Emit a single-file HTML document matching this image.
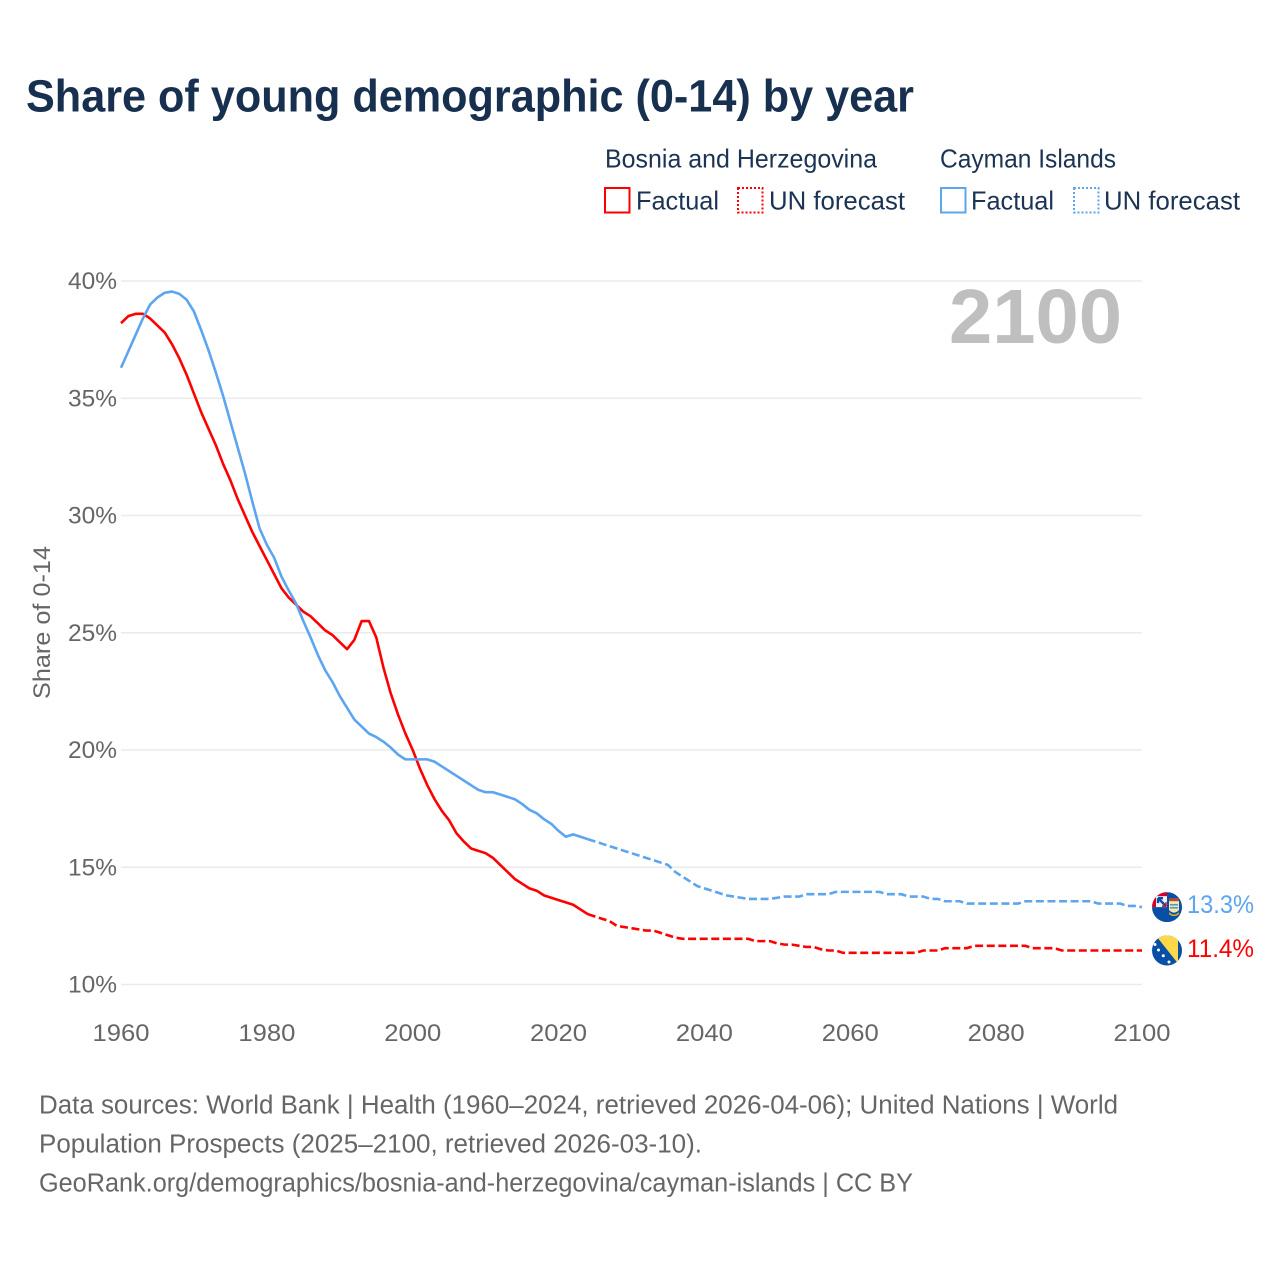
<!DOCTYPE html>
<html lang="en">
<head>
<meta charset="utf-8">
<title>Share of young demographic (0-14) by year</title>
<style>
html,body{margin:0;padding:0;background:#fff;}
svg{display:block;font-family:"Liberation Sans",sans-serif;}
</style>
</head>
<body>
<svg id="chart" width="1280" height="1280" viewBox="0 0 1280 1280" xmlns="http://www.w3.org/2000/svg">
  <defs>
    <clipPath id="flag-clip"><circle cx="0" cy="0" r="15"></circle></clipPath>
  </defs>
  <rect width="1280" height="1280" fill="#fff"></rect>
  <text x="26" y="111.5" font-size="45" font-weight="700" fill="#18304f" textLength="888" lengthAdjust="spacingAndGlyphs">Share of young demographic (0-14) by year</text>

  <g font-size="26" fill="#1b3354">
    <text x="605" y="167.5" textLength="272" lengthAdjust="spacingAndGlyphs">Bosnia and Herzegovina</text>
    <text x="940" y="167.5" textLength="176" lengthAdjust="spacingAndGlyphs">Cayman Islands</text>
    <rect x="605" y="188" width="24.5" height="24.5" fill="none" stroke="#ff0000" stroke-width="2"></rect>
    <text x="636" y="209.5" textLength="83" lengthAdjust="spacingAndGlyphs">Factual</text>
    <rect x="738" y="188" width="24.5" height="24.5" fill="none" stroke="#ff0000" stroke-width="2" stroke-dasharray="2,2"></rect>
    <text x="769" y="209.5" textLength="136" lengthAdjust="spacingAndGlyphs">UN forecast</text>
    <rect x="941" y="188" width="24.5" height="24.5" fill="none" stroke="#5da5ee" stroke-width="2"></rect>
    <text x="971" y="209.5" textLength="83" lengthAdjust="spacingAndGlyphs">Factual</text>
    <rect x="1074" y="188" width="24.5" height="24.5" fill="none" stroke="#5da5ee" stroke-width="2" stroke-dasharray="2,2"></rect>
    <text x="1104" y="209.5" textLength="136" lengthAdjust="spacingAndGlyphs">UN forecast</text>
  </g>

  <g id="grid"></g>
  <g id="y-ticks"></g>
  <g id="x-ticks"></g>
  <text transform="translate(50,622.5) rotate(-90)" text-anchor="middle" font-size="24.5" fill="#666666" textLength="153" lengthAdjust="spacingAndGlyphs">Share of 0-14</text>
  <text x="949" y="343" font-size="77" font-weight="700" fill="#bfbfbf" textLength="173" lengthAdjust="spacingAndGlyphs">2100</text>
  <g id="series"></g>

  <g id="flag-cayman">
    <g clip-path="url(#flag-clip)">
      <rect x="-15" y="-15" width="30" height="30" fill="#0a4fa6"></rect>
      <rect x="-15" y="-15" width="15" height="15" fill="#f4f0f0"></rect>
      <rect x="-15" y="-15" width="15" height="4" fill="#d80027"></rect>
      <rect x="-15" y="-15" width="4" height="15" fill="#d80027"></rect>
      <path d="M-9 -9 L-1 -1 M-9 -9 L-9 -4 M-9 -9 L-4 -9" stroke="#0a4fa6" stroke-width="2.4" fill="none"></path>
      <path d="M-5 -1 L-1 -1 L-1 -5" stroke="#d80027" stroke-width="1.4" fill="none"></path>
      <rect x="2" y="-9" width="10" height="3" fill="#b5463c"></rect>
      <path d="M2 -6 H12 V3 Q7 8 2 3 Z" fill="#f6e7a8"></path>
      <rect x="3" y="-3" width="8" height="1.4" fill="#3d8fd6"></rect>
      <rect x="3" y="0" width="8" height="1.4" fill="#3d8fd6"></rect>
      <path d="M2 5 Q7 10 12 5 L12 7 Q7 11 2 7 Z" fill="#e6b422"></path>
    </g>
  </g>
  <g id="flag-bosnia">
    <g clip-path="url(#flag-clip)">
      <rect x="-15" y="-15" width="30" height="30" fill="#0a4fa6"></rect>
      <polygon points="-12,-16 11,-16 11,13" fill="#ffd84a"></polygon>
      <g fill="#fff">
        <circle cx="-12" cy="-6" r="1.5"></circle>
        <circle cx="-8.5" cy="-0.5" r="1.5"></circle>
        <circle cx="-3.7" cy="5.3" r="1.5"></circle>
        <circle cx="2" cy="11.5" r="1.5"></circle>
      </g>
    </g>
  </g>
  <g id="end-labels"></g>

  <g font-size="25.5" fill="#666666">
    <text x="39" y="1113.5" textLength="1079" lengthAdjust="spacingAndGlyphs">Data sources: World Bank | Health (1960–2024, retrieved 2026-04-06); United Nations | World</text>
    <text x="39" y="1152.5" textLength="663" lengthAdjust="spacingAndGlyphs">Population Prospects (2025–2100, retrieved 2026-03-10).</text>
    <text x="39" y="1191.5" textLength="874" lengthAdjust="spacingAndGlyphs">GeoRank.org/demographics/bosnia-and-herzegovina/cayman-islands | CC BY</text>
  </g>
</svg>
<script>
var years = [
1960,1961,1962,1963,1964,1965,1966,1967,1968,1969,
1970,1971,1972,1973,1974,1975,1976,1977,1978,1979,
1980,1981,1982,1983,1984,1985,1986,1987,1988,1989,
1990,1991,1992,1993,1994,1995,1996,1997,1998,1999,
2000,2001,2002,2003,2004,2005,2006,2007,2008,2009,
2010,2011,2012,2013,2014,2015,2016,2017,2018,2019,
2020,2021,2022,2023,2024,2025,2026,2027,2028,2029,
2030,2031,2032,2033,2034,2035,2036,2037,2038,2039,
2040,2041,2042,2043,2044,2045,2046,2047,2048,2049,
2050,2051,2052,2053,2054,2055,2056,2057,2058,2059,
2060,2061,2062,2063,2064,2065,2066,2067,2068,2069,
2070,2071,2072,2073,2074,2075,2076,2077,2078,2079,
2080,2081,2082,2083,2084,2085,2086,2087,2088,2089,
2090,2091,2092,2093,2094,2095,2096,2097,2098,2099,
2100];
var bosnia = [
38.2,38.5,38.6,38.6,38.4,38.1,37.8,37.3,36.7,36.0,
35.2,34.4,33.7,33.0,32.2,31.5,30.7,30.0,29.3,28.7,
28.1,27.5,26.9,26.5,26.2,25.9,25.7,25.4,25.1,24.9,
24.6,24.3,24.7,25.5,25.5,24.8,23.5,22.4,21.5,20.7,
20.0,19.2,18.5,17.9,17.4,17.0,16.45,16.1,15.8,15.7,
15.6,15.4,15.1,14.8,14.5,14.3,14.1,14.0,13.8,13.7,
13.6,13.5,13.4,13.2,13.0,12.9,12.8,12.7,12.5,12.45,
12.4,12.35,12.3,12.3,12.2,12.1,12.0,11.95,11.95,11.95,
11.95,11.95,11.95,11.95,11.95,11.95,11.95,11.85,11.85,11.85,
11.75,11.7,11.7,11.65,11.6,11.6,11.5,11.45,11.45,11.35,
11.35,11.35,11.35,11.35,11.35,11.35,11.35,11.35,11.35,11.35,
11.45,11.45,11.45,11.55,11.55,11.55,11.55,11.65,11.65,11.65,
11.65,11.65,11.65,11.65,11.65,11.55,11.55,11.55,11.55,11.45,
11.45,11.45,11.45,11.45,11.45,11.45,11.45,11.45,11.45,11.45,
11.45];
var cayman = [
36.3,37.0,37.7,38.4,39.0,39.3,39.5,39.55,39.45,39.2,
38.7,37.9,37.05,36.1,35.1,34.0,32.9,31.8,30.6,29.45,
28.75,28.2,27.4,26.8,26.25,25.5,24.8,24.05,23.4,22.9,
22.3,21.8,21.3,21.0,20.7,20.55,20.35,20.1,19.8,19.6,
19.6,19.6,19.6,19.5,19.3,19.1,18.9,18.7,18.5,18.3,
18.2,18.2,18.1,18.0,17.9,17.7,17.45,17.3,17.05,16.85,
16.55,16.3,16.4,16.3,16.2,16.1,16.0,15.9,15.8,15.7,
15.6,15.5,15.4,15.3,15.2,15.1,14.8,14.6,14.4,14.2,
14.1,14.0,13.9,13.8,13.75,13.7,13.65,13.65,13.65,13.65,
13.7,13.75,13.75,13.75,13.85,13.85,13.85,13.85,13.95,13.95,
13.95,13.95,13.95,13.95,13.95,13.85,13.85,13.85,13.75,13.75,
13.75,13.65,13.65,13.55,13.55,13.55,13.45,13.45,13.45,13.45,
13.45,13.45,13.45,13.45,13.55,13.55,13.55,13.55,13.55,13.55,
13.55,13.55,13.55,13.55,13.45,13.45,13.45,13.45,13.35,13.35,
13.3];
var lastFactualYear = 2024;
var yTickLabels = [10,15,20,25,30,35,40];
var xTickLabels = [1960,1980,2000,2020,2040,2060,2080,2100];

var NS = 'http://www.w3.org/2000/svg';
function xScale(year){ return 121 + (year - 1960) * (1142 - 121) / 140; }
function yScale(v){ return 984.5 - (v - 10) * (984.5 - 281) / 30; }
function make(tag, parent, attrs){
  var el = document.createElementNS(NS, tag);
  for (var k in attrs) el.setAttribute(k, attrs[k]);
  parent.appendChild(el);
  return el;
}
function buildPath(values, fromYear, toYear){
  var d = '';
  for (var i = 0; i < years.length; i++){
    if (years[i] < fromYear || years[i] > toYear) continue;
    d += (d ? 'L' : 'M') + xScale(years[i]).toFixed(2) + ' ' + yScale(values[i]).toFixed(2);
  }
  return d;
}

var gridG = document.getElementById('grid');
var yG = document.getElementById('y-ticks');
yTickLabels.forEach(function(t){
  var line = make('line', gridG, {x1: xScale(1960), x2: xScale(2100), y1: yScale(t), y2: yScale(t), stroke: '#ebebeb', 'stroke-width': 1.4});
  
  
  var label = make('text', yG, {x: 117, y: yScale(t) + 8, 'text-anchor': 'end', 'font-size': 24.5, fill: '#666666', textLength: 49, lengthAdjust: 'spacingAndGlyphs'});
  
  
  label.textContent = t + '%';
});
var xG = document.getElementById('x-ticks');
xTickLabels.forEach(function(t){
  var label = make('text', xG, {x: xScale(t), y: 1041, 'text-anchor': 'middle', 'font-size': 24.5, fill: '#666666', textLength: 57, lengthAdjust: 'spacingAndGlyphs'});
  
  
  label.textContent = t;
});

var seriesG = document.getElementById('series');
var bosniaColor = '#ff0000';
var caymanColor = '#5da5ee';

var bosniaFact = make('path', seriesG, {d: buildPath(bosnia, 1960, lastFactualYear), fill: 'none', stroke: bosniaColor, 'stroke-width': 2.6, 'stroke-linejoin': 'round'});


var bosniaFore = make('path', seriesG, {d: buildPath(bosnia, lastFactualYear, 2100), fill: 'none', stroke: bosniaColor, 'stroke-width': 2.6, 'stroke-dasharray': '8,3.6'});


var caymanFact = make('path', seriesG, {d: buildPath(cayman, 1960, lastFactualYear), fill: 'none', stroke: caymanColor, 'stroke-width': 2.6, 'stroke-linejoin': 'round'});


var caymanFore = make('path', seriesG, {d: buildPath(cayman, lastFactualYear, 2100), fill: 'none', stroke: caymanColor, 'stroke-width': 2.6, 'stroke-dasharray': '8,3.6'});



var lastBosnia = bosnia[bosnia.length - 1];
var lastCayman = cayman[cayman.length - 1];
document.getElementById('flag-cayman').setAttribute('transform', 'translate(1167,' + yScale(lastCayman) + ')');
document.getElementById('flag-bosnia').setAttribute('transform', 'translate(1167,' + yScale(lastBosnia) + ')');

var endG = document.getElementById('end-labels');
var endCayman = make('text', endG, {x: 1187, y: yScale(lastCayman) + 6, 'font-size': 25, fill: caymanColor, textLength: 67, lengthAdjust: 'spacingAndGlyphs'});


endCayman.textContent = lastCayman.toFixed(1) + '%';
var endBosnia = make('text', endG, {x: 1187, y: yScale(lastBosnia) + 6.5, 'font-size': 25, fill: bosniaColor, textLength: 67, lengthAdjust: 'spacingAndGlyphs'});


endBosnia.textContent = lastBosnia.toFixed(1) + '%';
</script>
</body>
</html>
